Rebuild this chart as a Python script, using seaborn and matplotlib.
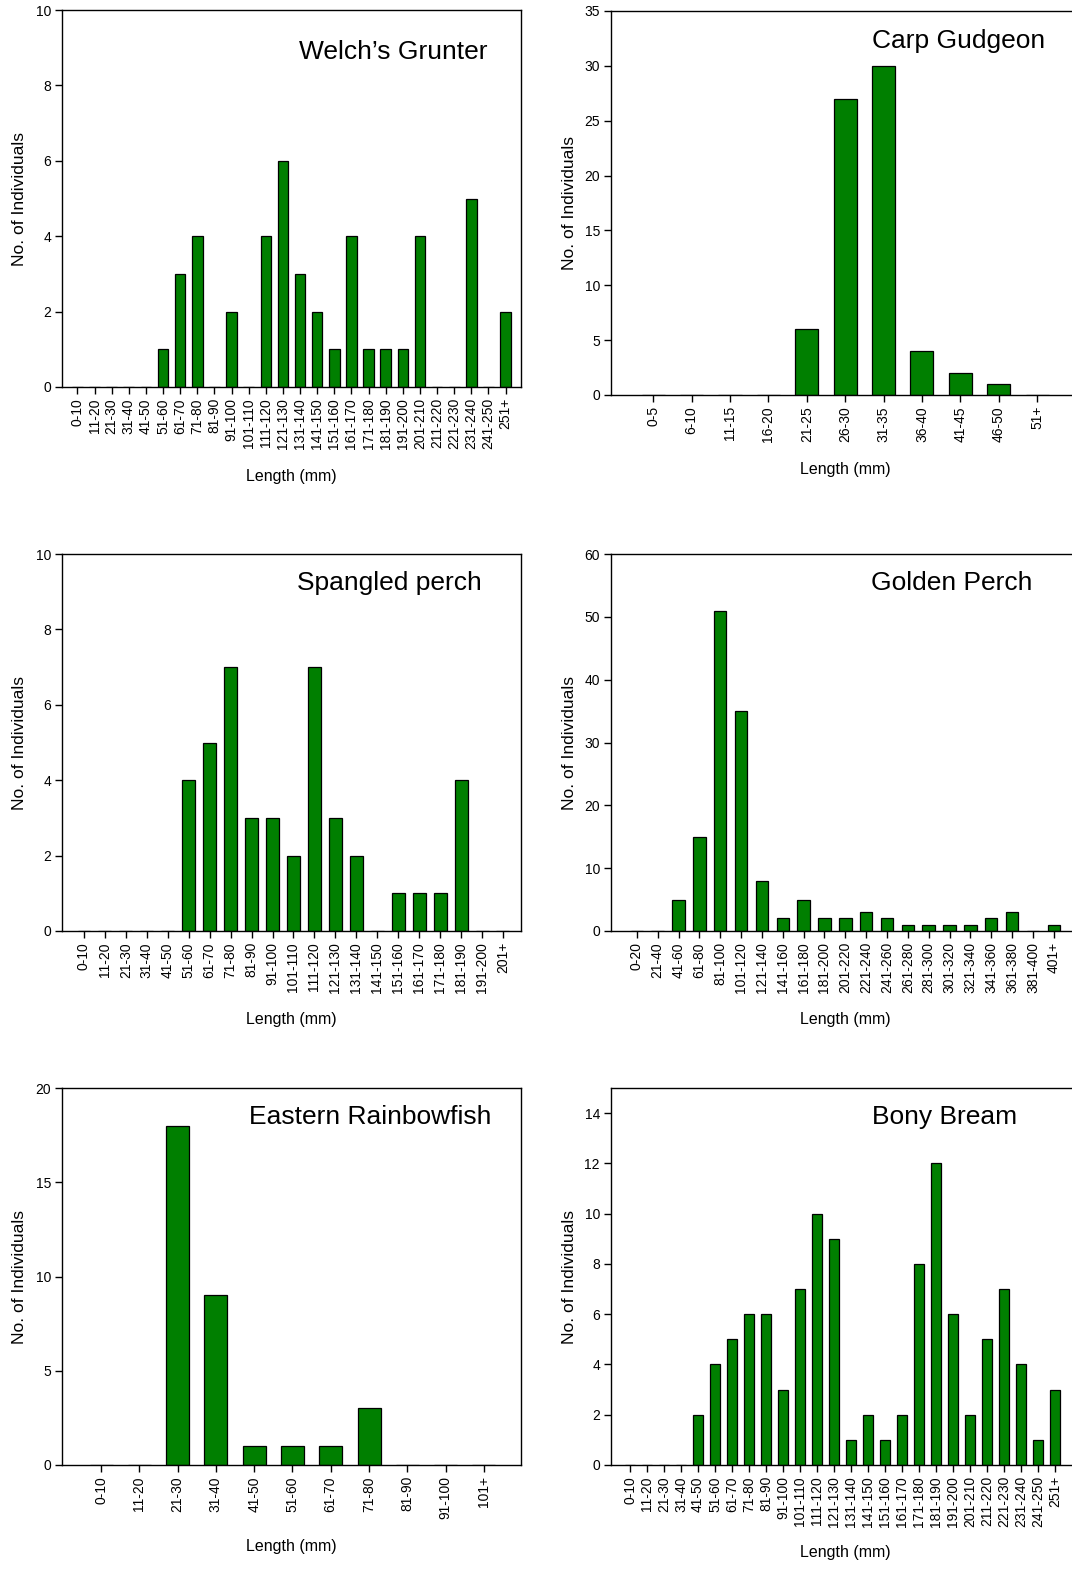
import matplotlib
matplotlib.use("Agg")
import matplotlib.pyplot as plt
import seaborn as sns

# ---- data (counts per length class) ----
welch_labels = ["0-10", "11-20", "21-30", "31-40", "41-50", "51-60", "61-70", "71-80", "81-90",
                "91-100", "101-110", "111-120", "121-130", "131-140", "141-150", "151-160",
                "161-170", "171-180", "181-190", "191-200", "201-210", "211-220", "221-230",
                "231-240", "241-250", "251+"]
welch_counts = [0, 0, 0, 0, 0, 1, 3, 4, 0, 2, 0, 4, 6, 3, 2, 1, 4, 1, 1, 1, 4, 0, 0, 5, 0, 2]

carp_labels = ["0-5", "6-10", "11-15", "16-20", "21-25", "26-30", "31-35", "36-40", "41-45",
               "46-50", "51+"]
carp_counts = [0, 0, 0, 0, 6, 27, 30, 4, 2, 1, 0]

spangled_labels = ["0-10", "11-20", "21-30", "31-40", "41-50", "51-60", "61-70", "71-80",
                   "81-90", "91-100", "101-110", "111-120", "121-130", "131-140", "141-150",
                   "151-160", "161-170", "171-180", "181-190", "191-200", "201+"]
spangled_counts = [0, 0, 0, 0, 0, 4, 5, 7, 3, 3, 2, 7, 3, 2, 0, 1, 1, 1, 4, 0, 0]

golden_labels = ["0-20", "21-40", "41-60", "61-80", "81-100", "101-120", "121-140", "141-160",
                 "161-180", "181-200", "201-220", "221-240", "241-260", "261-280", "281-300",
                 "301-320", "321-340", "341-360", "361-380", "381-400", "401+"]
golden_counts = [0, 0, 5, 15, 51, 35, 8, 2, 5, 2, 2, 3, 2, 1, 1, 1, 1, 2, 3, 0, 1]

rainbow_labels = ["0-10", "11-20", "21-30", "31-40", "41-50", "51-60", "61-70", "71-80",
                  "81-90", "91-100", "101+"]
rainbow_counts = [0, 0, 18, 9, 1, 1, 1, 3, 0, 0, 0]

bony_labels = ["0-10", "11-20", "21-30", "31-40", "41-50", "51-60", "61-70", "71-80", "81-90",
               "91-100", "101-110", "111-120", "121-130", "131-140", "141-150", "151-160",
               "161-170", "171-180", "181-190", "191-200", "201-210", "211-220", "221-230",
               "231-240", "241-250", "251+"]
bony_counts = [0, 0, 0, 0, 2, 4, 5, 6, 6, 3, 7, 10, 9, 1, 2, 1, 2, 8, 12, 6, 2, 5, 7, 4, 1, 3]

titles = ["Welch\u2019s Grunter", "Carp Gudgeon", "Spangled perch",
          "Golden Perch", "Eastern Rainbowfish", "Bony Bream"]

# ---- layout per panel ----
W, H = 1072, 1572
GREEN = "#007F00"

def box(left, top, right, bottom):
    return [left / W, 1 - bottom / H, (right - left) / W, (bottom - top) / H]

panels = [
    # labels, counts, axes box, xlim, ylim, yticks, title pos, xlabel y, bar width
    (welch_labels, welch_counts, box(62, 10, 521, 387), (-0.9, 25.9), (0, 10), range(0, 11, 2),
     (0.926, 0.889), -0.2175, 0.62),
    (carp_labels, carp_counts, box(611, 11, 1079, 395), (-1.1, 11.09), (0, 35), range(0, 36, 5),
     (0.927, 0.922), -0.1745, 0.6),
    (spangled_labels, spangled_counts, box(62, 554, 521, 931), (-1.05, 20.86), (0, 10), range(0, 11, 2),
     (0.915, 0.923), -0.215, 0.62),
    (golden_labels, golden_counts, box(611, 554, 1079, 931), (-1.24, 21.21), (0, 60), range(0, 61, 10),
     (0.90, 0.923), -0.215, 0.6),
    (rainbow_labels, rainbow_counts, box(62, 1088, 521, 1465), (-1.02, 10.97), (0, 20), range(0, 21, 5),
     (0.935, 0.923), -0.196, 0.6),
    (bony_labels, bony_counts, box(611, 1088, 1079, 1465), (-1.12, 26.4), (0, 15), range(0, 15, 2),
     (0.868, 0.923), -0.212, 0.6),
]

sns.set_style("ticks")
plt.rcParams["font.family"] = ["Liberation Sans", "DejaVu Sans"]
plt.rcParams["text.color"] = "black"
plt.rcParams["axes.labelcolor"] = "black"
plt.rcParams["xtick.color"] = "black"
plt.rcParams["ytick.color"] = "black"

fig = plt.figure(figsize=(W / 100, H / 100), dpi=100)

for i, (labels, counts, rect, xlim, ylim, yticks, tpos, xly, bw) in enumerate(panels):
    ax = fig.add_axes(rect)
    sns.barplot(x=labels, y=counts, ax=ax, color=GREEN, saturation=1,
                edgecolor="black", linewidth=0.9, width=bw)
    ax.set_xlim(xlim)
    ax.set_ylim(ylim)
    ax.set_yticks(list(yticks))
    ax.set_xticks(range(len(labels)))
    ax.set_xticklabels(labels, rotation=90, fontsize=10)
    ax.tick_params(axis="y", labelsize=10, length=5, width=1, direction="out", pad=3)
    ax.tick_params(axis="x", length=5, width=1, direction="out", pad=3)
    for sp in ax.spines.values():
        sp.set_visible(True)
        sp.set_linewidth(1)
        sp.set_color("black")
    ax.set_xlabel("Length (mm)", fontsize=11.5)
    ax.set_ylabel("No. of Individuals", fontsize=12.5)
    ax.xaxis.set_label_coords(0.5, xly)
    ax.yaxis.set_label_coords(-0.076 if i % 2 == 0 else -0.073, 0.5)
    ax.text(tpos[0], tpos[1], titles[i], transform=ax.transAxes,
            ha="right", va="center", fontsize=19)

plt.savefig("out.png", dpi=100)
